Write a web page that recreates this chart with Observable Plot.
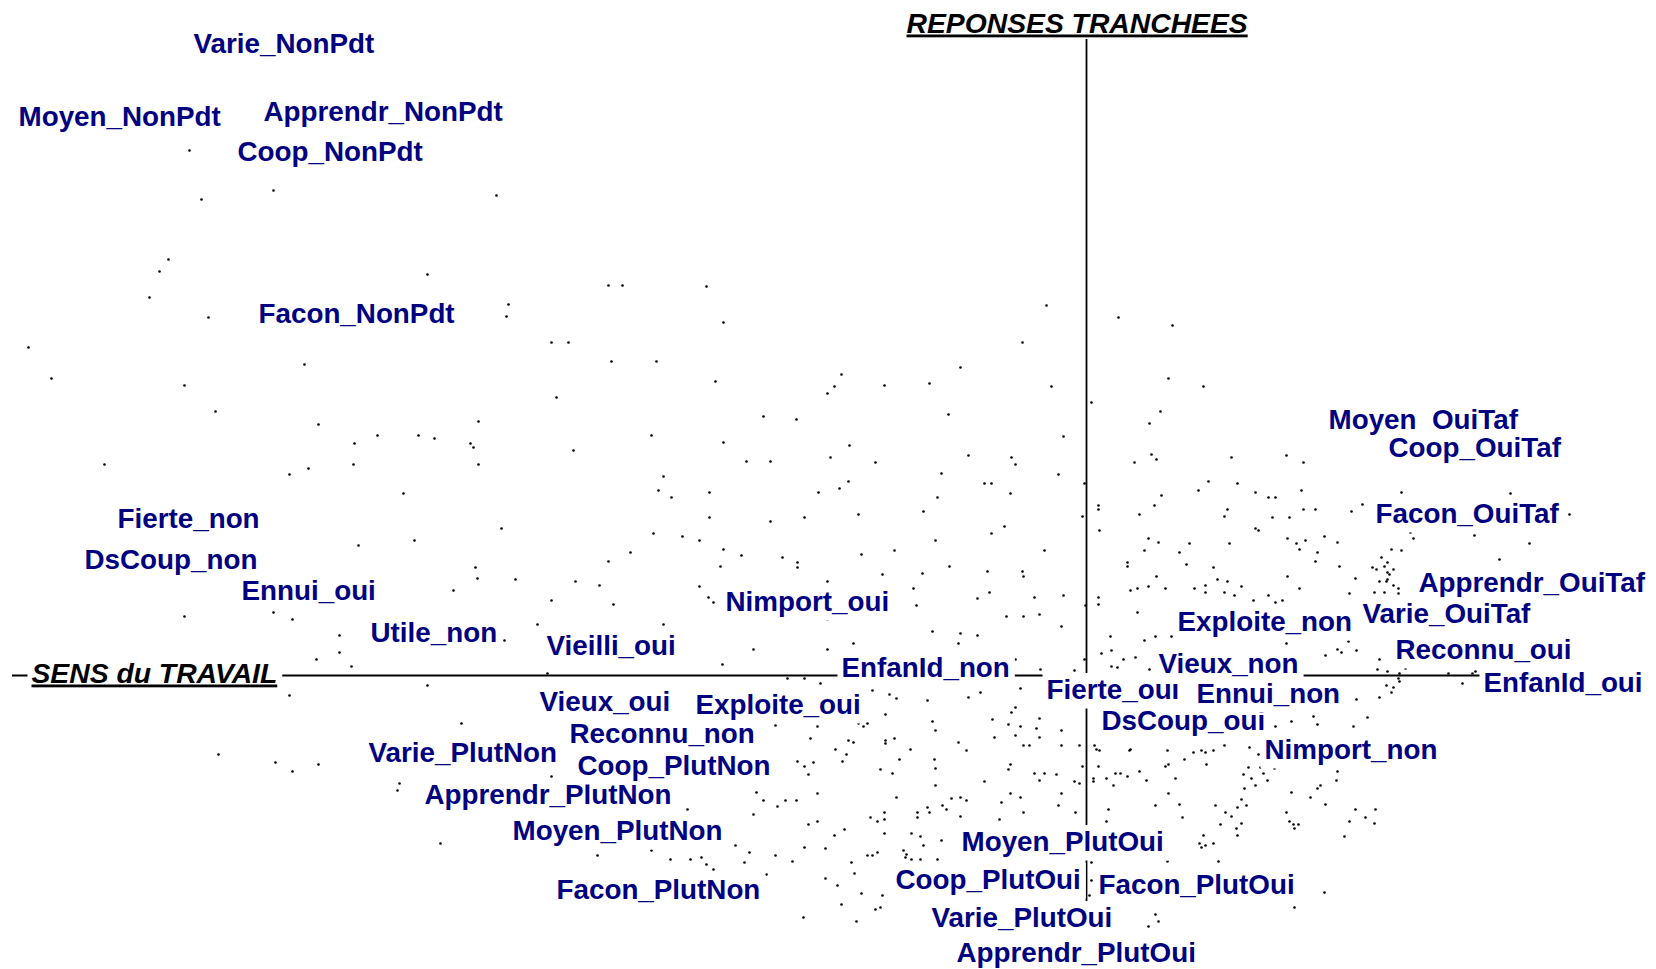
<!DOCTYPE html>
<html>
<head>
<meta charset="utf-8">
<script src="https://cdn.jsdelivr.net/npm/d3@7"></script>
<script src="https://cdn.jsdelivr.net/npm/@observablehq/plot@0.6"></script>
<style>
  html, body { margin: 0; padding: 0; background: #fff; }
  #chart svg { display: block; }
</style>
</head>
<body>
<div id="chart"></div>
<script>
// Factor plane: axis 1 (SENS du TRAVAIL) horizontal, axis 2 (REPONSES TRANCHEES) vertical
const axisTitleNames = ["SENS du TRAVAIL", "REPONSES TRANCHEES"];
const axisTitleX = [-10.55, -1.80];
const axisTitleY = [-0.07, 6.43];

// extent of the drawn axis lines
const axis1Extent = [-10.74, 5.0];
const axis2Extent = [-2.55, 6.36];

// Modalities (active categories), in drawing order
const labelNames = [
  "Varie_NonPdt", "Moyen_NonPdt", "Apprendr_NonPdt", "Coop_NonPdt", "Facon_NonPdt",
  "Fierte_non", "DsCoup_non", "Ennui_oui", "Utile_non", "Vieilli_oui", "Nimport_oui",
  "EnfanId_non", "Vieux_oui", "Reconnu_non", "Exploite_oui", "Varie_PlutNon",
  "Apprendr_PlutNon", "Coop_PlutNon", "Moyen_PlutNon", "Facon_PlutNon",
  "Exploite_non", "Fierte_oui", "Vieux_non", "DsCoup_oui", "Ennui_non", "Nimport_non",
  "Moyen_PlutOui", "Coop_PlutOui", "Facon_PlutOui", "Varie_PlutOui", "Apprendr_PlutOui",
  "Moyen_OuiTaf", "Coop_OuiTaf", "Facon_OuiTaf", "Apprendr_OuiTaf", "Varie_OuiTaf",
  "Reconnu_oui", "EnfanId_oui"
];
const labelX = [
  -8.93, -10.68, -8.23, -8.49, -8.28,
  -9.69, -10.02, -8.45, -7.16, -5.40, -3.61,
  -2.45, -5.47, -5.17, -3.91, -7.18,
  -6.62, -5.09, -5.74, -5.30,
  0.91, -0.40, 0.72, 0.15, 1.10, 1.78,
  -1.25, -1.91, 0.12, -1.55, -1.30,
  2.42, 3.02, 2.89, 3.32, 2.76,
  3.09, 3.97
];
const labelY = [
  6.23, 5.50, 5.55, 5.15, 3.53,
  1.48, 1.07, 0.76, 0.34, 0.21, 0.65,
  -0.01, -0.35, -0.67, -0.38, -0.86,
  -1.28, -0.99, -1.64, -2.23,
  0.45, -0.23, 0.03, -0.54, -0.27, -0.83,
  -1.75, -2.13, -2.18, -2.51, -2.86,
  2.47, 2.19, 1.53, 0.84, 0.53,
  0.17, -0.16
];

// Individuals (supplementary points), [axis1, axis2]
const individuals = [
  [-8.97,5.25],[-8.13,4.85],[-8.85,4.76],[-9.18,4.16],[-9.27,4.04],[-9.37,3.78],[-8.78,3.58],
  [-5.90,4.80],[-6.59,4.01],[-4.78,3.90],[-4.64,3.90],[-3.80,3.89],[-5.78,3.71],[-5.80,3.59],[-3.63,3.53],
  [-0.40,3.70],[0.32,3.58],
  [-10.58,3.28],[-10.35,2.97],[-9.02,2.90],[-7.82,3.11],[-8.71,2.64],[-7.68,2.51],[-7.09,2.40],[-7.32,2.32],
  [-9.82,2.11],[-7.33,2.11],[-7.78,2.07],[-7.97,2.01],[-6.83,1.82],[-6.72,1.35],[-7.28,1.30],[-9.02,0.59],
  [-8.13,0.63],[-7.94,0.56],[-7.47,0.40],
  [-5.35,3.33],[-5.18,3.33],[-4.75,3.14],[-4.30,3.14],[-3.71,2.94],[-2.59,2.82],[-5.30,2.78],[-6.08,2.54],
  [-6.68,2.40],[-6.52,2.37],[-6.16,2.32],[-6.13,2.28],[-5.13,2.25],[-4.35,2.40],[-3.23,2.59],[-2.90,2.56],
  [-3.63,2.33],[-3.40,2.14],[-3.16,2.14],[-6.08,2.11],[-4.23,1.99],[-4.28,1.85],[-4.15,1.78],[-3.77,1.83],
  [-2.68,1.83],[-3.77,1.58],[-3.16,1.54],[-2.82,1.58],[-5.85,1.47],[-4.33,1.42],[-4.04,1.39],[-3.87,1.35],
  [-3.63,1.26],[-3.45,1.20],[-3.04,1.18],[-2.89,1.13],[-2.89,1.08],[-3.66,1.09],[-4.56,1.23],[-4.78,1.14],
  [-6.11,1.08],[-6.09,0.97],[-5.71,0.96],[-6.33,0.85],[-5.11,0.94],[-4.87,0.90],[-5.35,0.75],[-4.73,0.71],
  [-3.87,0.89],[-3.78,0.78],[-3.73,0.73],[-2.59,0.94],[-5.49,0.51],[-4.23,0.51],[-5.82,0.35],[-2.59,0.56],
  [0.86,3.50],[-0.64,3.33],[-1.26,3.08],[-2.45,3.01],[-2.52,2.89],[-2.02,2.90],[-1.57,2.92],[-0.35,2.89],
  [0.82,2.97],[1.17,2.89],[0.05,2.73],[-1.38,2.61],[0.74,2.64],[0.63,2.52],[-0.23,2.39],[-2.37,2.30],
  [-2.56,2.18],[-2.11,2.13],[-1.18,2.20],[-0.75,2.18],[-0.71,2.11],[-1.45,2.02],[-0.28,2.01],[0.48,2.13],
  [0.65,2.21],[0.70,2.16],[1.45,2.18],[-2.38,1.94],[-2.47,1.87],[-1.02,1.92],[-0.95,1.92],[-0.02,1.92],
  [-1.49,1.78],[-0.76,1.82],[1.22,1.94],[1.51,1.92],[1.12,1.85],[0.75,1.80],[-2.28,1.61],[-1.63,1.64],
  [-0.04,1.59],[0.12,1.70],[0.12,1.66],[0.68,1.70],[0.53,1.61],[1.41,1.66],[1.38,1.59],[0.13,1.45],
  [-0.95,1.42],[-0.82,1.49],[-1.51,1.35],[0.62,1.37],[0.72,1.33],[1.03,1.32],[1.43,1.32],[-2.25,1.21],
  [-1.92,1.25],[-0.42,1.25],[0.58,1.25],[0.93,1.23],[-2.04,1.01],[-1.64,1.02],[-1.37,1.09],[-0.99,1.04],
  [-0.64,1.04],[-0.63,0.99],[0.41,1.13],[0.41,1.09],[1.00,1.11],[1.27,1.08],[0.70,0.99],[-1.73,0.87],
  [-1.09,0.77],[-0.97,0.83],[-0.52,0.78],[-0.23,0.80],[0.44,0.85],[0.51,0.87],[0.62,0.89],[0.79,0.87],
  [1.08,0.87],[1.19,0.90],[1.19,0.83],[1.31,0.96],[1.41,0.94],[1.38,0.83],[1.48,0.80],[1.55,0.89],
  [-1.70,0.70],[-0.80,0.59],[-0.63,0.59],[-0.47,0.61],[-0.25,0.49],[-0.01,0.70],[0.12,0.78],[0.12,0.71],
  [0.51,0.63],[-1.54,0.44],[-1.26,0.42],[-1.09,0.40],[-1.28,0.32],[-2.33,0.32],[0.24,0.39],[0.58,0.35],
  [0.69,0.39],[0.85,0.39],
  [2.00,2.20],[2.17,2.13],[1.69,1.83],[1.82,1.78],[1.89,1.78],[2.15,1.85],[3.15,1.83],[4.24,1.82],
  [2.17,1.66],[2.29,1.66],[2.65,1.64],[2.76,1.71],[4.83,1.61],[1.86,1.58],[2.03,1.58],[1.69,1.47],
  [1.72,1.45],[2.01,1.37],[2.10,1.32],[2.19,1.35],[2.13,1.26],[2.38,1.39],[2.51,1.33],[3.24,1.43],
  [3.27,1.37],[3.88,1.40],[4.43,1.32],[2.31,1.23],[2.29,1.14],[2.53,1.09],[3.05,1.26],[3.15,1.25],
  [4.13,1.16],[2.95,1.18],[2.86,1.08],[2.90,1.06],[2.98,1.09],[3.01,1.13],[3.07,1.06],[3.01,1.03],
  [3.03,1.01],[2.01,0.99],[2.69,0.97],[2.93,0.94],[3.00,0.94],[3.01,0.96],[3.07,0.90],[3.12,0.87],
  [3.12,0.82],[2.88,0.83],[2.98,0.83],[2.13,0.87],[2.63,0.82],[1.67,0.75],[1.82,0.80],[1.89,0.73],
  [1.96,0.75],[2.00,0.32],[2.62,0.34],
  [-7.70,0.16],[-7.47,0.23],[-7.35,0.09],[-7.97,-0.20],[-8.68,-0.79],[-8.11,-0.87],[-7.94,-0.96],[-7.68,-0.89],
  [-6.87,-1.08],[-6.89,-1.15],
  [-3.33,0.26],[-2.59,0.26],[-3.64,0.11],[-5.39,0.02],[-6.59,-0.10],[-2.99,-0.03],[-2.82,-0.03],[-2.66,-0.08],
  [-6.25,-0.48],[-3.11,-0.50],[-2.69,-0.51],[-2.76,-0.63],[-5.35,-1.01],[-2.89,-0.86],[-2.82,-0.91],[-2.73,-0.87],
  [-2.78,-0.99],[-3.30,-1.17],[-3.23,-1.25],[-3.09,-1.31],[-3.01,-1.25],[-2.90,-1.25],[-2.69,-1.18],[-3.99,-1.34],
  [-3.33,-1.39],[-2.78,-1.49],[-2.69,-1.46],[-6.46,-1.68],[-4.89,-1.80],[-4.35,-1.75],[-4.16,-1.84],[-3.96,-1.84],
  [-3.85,-1.82],[-3.80,-1.89],[-3.73,-1.94],[-3.51,-1.70],[-3.37,-1.77],[-3.42,-1.87],[-3.11,-1.80],[-2.94,-1.86],
  [-2.82,-1.72],[-2.61,-1.73],[-3.20,-1.99],[-2.61,-2.03],[-2.83,-2.42],
  [-0.71,0.16],[-0.46,0.06],[-0.12,0.05],[-0.02,0.16],[0.15,0.22],[0.25,0.25],[0.31,0.08],[0.37,0.16],
  [0.49,0.18],[0.63,0.06],[0.25,0.09],[-2.14,-0.15],[-1.97,-0.19],[-1.90,-0.23],[-1.59,-0.25],[-1.18,-0.22],
  [-1.06,-0.17],[-0.66,-0.13],[-2.01,-0.39],[-1.54,-0.46],[-1.51,-0.55],[-2.28,-0.48],[-2.23,-0.51],[-2.19,-0.48],
  [-0.94,-0.44],[-0.75,-0.37],[-0.71,-0.32],[-0.78,-0.49],[-0.66,-0.51],[-0.47,-0.43],[-0.50,-0.53],[-0.25,-0.55],
  [-0.47,-0.62],[-0.71,-0.60],[-0.92,-0.62],[-2.38,-0.65],[-2.33,-0.67],[-2.01,-0.65],[-2.01,-0.68],[-1.92,-0.63],
  [-2.51,-0.74],[-2.40,-0.79],[-2.44,-0.86],[-1.76,-0.74],[-1.28,-0.67],[-1.20,-0.75],[-0.63,-0.70],[-0.57,-0.70],
  [-0.25,-0.70],[-0.07,-0.70],[-1.87,-0.84],[-1.52,-0.84],[-1.51,-0.93],[-2.06,-0.94],[-1.94,-0.98],[-0.76,-0.89],
  [-0.78,-0.94],[-0.52,-0.98],[-0.42,-0.98],[-0.47,-1.05],[-0.30,-0.99],[-0.12,-1.06],[-0.07,-1.08],[-0.04,-0.91],
  [-1.02,-1.06],[-1.51,-1.10],[0.08,-0.70],[0.10,-0.74],[0.13,-0.75],[0.43,-0.75],[0.44,-0.74],[0.81,-0.75],
  [1.07,-0.77],[1.15,-0.75],[1.19,-0.77],[1.27,-0.75],[1.38,-0.70],[0.12,-0.91],[0.79,-0.91],[0.82,-0.89],
  [0.98,-0.84],[1.20,-0.89],[0.07,-1.03],[0.07,-1.06],[0.20,-1.03],[0.27,-1.10],[0.29,-0.98],[0.34,-0.98],
  [0.41,-1.01],[0.53,-0.96],[0.60,-1.05],[0.89,-1.03],[0.82,-1.18],[0.93,-1.29],[0.96,-1.42],[0.69,-1.30],
  [1.29,-1.30],[1.39,-1.37],[1.45,-1.41],[1.34,-1.49],[1.50,-1.53],[1.51,-1.60],[1.55,-1.48],
  [1.55,-1.24],[1.51,-1.32],[0.22,-1.34],[0.20,-1.46],[-1.90,-1.22],[-1.35,-1.23],[-1.26,-1.22],[-1.20,-1.25],
  [-1.44,-1.30],[-1.40,-1.34],[-1.59,-1.32],[-1.57,-1.37],[-1.69,-1.37],[-1.69,-1.42],[-1.26,-1.41],[-0.85,-1.27],
  [-0.76,-1.18],[-0.66,-1.22],[-0.63,-1.37],[-0.87,-1.44],[-0.28,-1.30],[-0.25,-1.18],[-0.11,-1.37],[-2.16,-1.42],
  [-2.09,-1.46],[-2.02,-1.37],[-2.02,-1.44],[-2.42,-1.54],[-2.52,-1.60],[-2.02,-1.58],[-1.75,-1.58],[-1.66,-1.61],
  [-1.63,-1.70],[-1.45,-1.65],[-1.83,-1.75],[-1.80,-1.79],[-1.75,-1.84],[-1.66,-1.84],[-1.81,-1.82],[-1.49,-1.84],
  [-2.19,-1.80],[-2.14,-1.80],[-2.09,-1.77],[-2.35,-1.87],[-2.32,-1.98],[-2.49,-2.10],[-2.25,-2.18],[-2.04,-2.20],
  [-2.45,-2.29],[-2.11,-2.34],[-2.06,-2.32],[-2.30,-2.46],[0.81,-1.86],[1.32,-1.86],[1.17,-1.60],[1.13,-1.68],
  [1.19,-1.70],[1.27,-1.68],[1.15,-1.72],[0.05,-1.87],[0.05,-2.05],[0.03,-2.20],[0.69,-2.39],[0.72,-2.46],
  [0.62,-2.51],
  [2.39,0.20],[2.51,0.26],[2.55,0.23],[2.70,0.25],[2.93,0.16],[2.91,0.06],[3.01,0.04],[3.13,0.02],
  [3.19,0.07],[3.62,0.02],[3.86,0.02],[3.89,0.04],[3.12,-0.03],[3.13,-0.06],[3.00,-0.10],[3.07,-0.12],
  [3.05,-0.17],[3.76,-0.08],[2.93,-0.22],[2.70,-0.24],[2.27,-0.41],[2.31,-0.49],[2.05,-0.46],[1.89,-0.51],
  [2.81,-0.42],[2.67,-0.51],[1.63,-0.72],[1.72,-0.79],[1.62,-0.92],[1.74,-0.92],[1.88,-0.93],[1.77,-0.98],
  [1.57,-0.99],[1.65,-1.03],[1.81,-1.05],[1.69,-1.10],[1.58,-1.13],[1.60,-1.30],[2.51,-0.96],[2.50,-1.05],
  [2.34,-1.10],[2.31,-1.13],[2.05,-1.17],[2.24,-1.22],[2.39,-1.29],[2.00,-1.37],[2.03,-1.46],[2.08,-1.53],
  [2.12,-1.49],[2.07,-1.49],[2.69,-1.34],[2.89,-1.34],[2.79,-1.42],[2.63,-1.46],[2.88,-1.48],[2.58,-1.61],
  [2.38,-2.17],[2.08,-2.32]
];

const labels = labelNames.map((name, i) => ({name, x: labelX[i], y: labelY[i]}));
const axisTitles = axisTitleNames.map((name, i) => ({name, x: axisTitleX[i], y: axisTitleY[i]}));

const FONT = "Liberation Sans, Arial, Helvetica, sans-serif";

const svg = Plot.plot({
  width: 1656,
  height: 969,
  margin: 0,
  style: {background: "#fff", overflow: "hidden"},
  x: {domain: [-10.86, 5.70], range: [0, 1656], axis: null},
  y: {domain: [-2.94, 6.75], range: [969, 0], axis: null},
  marks: [
    Plot.ruleY([0], {x1: axis1Extent[0], x2: axis1Extent[1], stroke: "#000", strokeWidth: 1.8}),
    Plot.ruleX([0], {y1: axis2Extent[0], y2: axis2Extent[1], stroke: "#000", strokeWidth: 1.8}),
    Plot.dot(individuals, {x: d => d[0], y: d => d[1], r: 1.3, fill: "#000", stroke: null}),
    Plot.text(axisTitles, {
      x: "x", y: "y", text: "name", textAnchor: "start", lineAnchor: "bottom",
      fontSize: 28.3, fontWeight: "bold", fontStyle: "italic", fontFamily: FONT,
      fill: "#000"
    }),
    Plot.text(labels, {
      x: "x", y: "y", text: "name", textAnchor: "start", lineAnchor: "bottom",
      fontSize: 27.8, fontWeight: "bold", fontFamily: FONT,
      fill: "#000080"
    })
  ]
});

document.getElementById("chart").append(svg);

const textGroups = svg.querySelectorAll('g[aria-label="text"]');
const titleGroup = textGroups[0];
const labelGroup = textGroups[1];

// opaque white box behind a text element (hides whatever was drawn before it)
function boxBehind(node) {
  const b = node.getBBox();
  const r = document.createElementNS("http://www.w3.org/2000/svg", "rect");
  r.setAttribute("x", b.x - 4);
  r.setAttribute("y", b.y - 0.5);
  r.setAttribute("width", b.width + 9);
  r.setAttribute("height", b.height + 4.5);
  r.setAttribute("fill", "#fff");
  const t = node.getAttribute("transform");
  if (t) r.setAttribute("transform", t);
  node.parentNode.insertBefore(r, node);
}

// axis titles: underlined; the horizontal one sits in a white box on the axis
titleGroup.querySelectorAll("text").forEach(node => {
  node.style.textDecoration = "underline";
  node.setAttribute("text-decoration", "underline");
  if (node.textContent === "SENS du TRAVAIL") boxBehind(node);
});

labelGroup.querySelectorAll("text").forEach(boxBehind);
</script>
</body>
</html>
